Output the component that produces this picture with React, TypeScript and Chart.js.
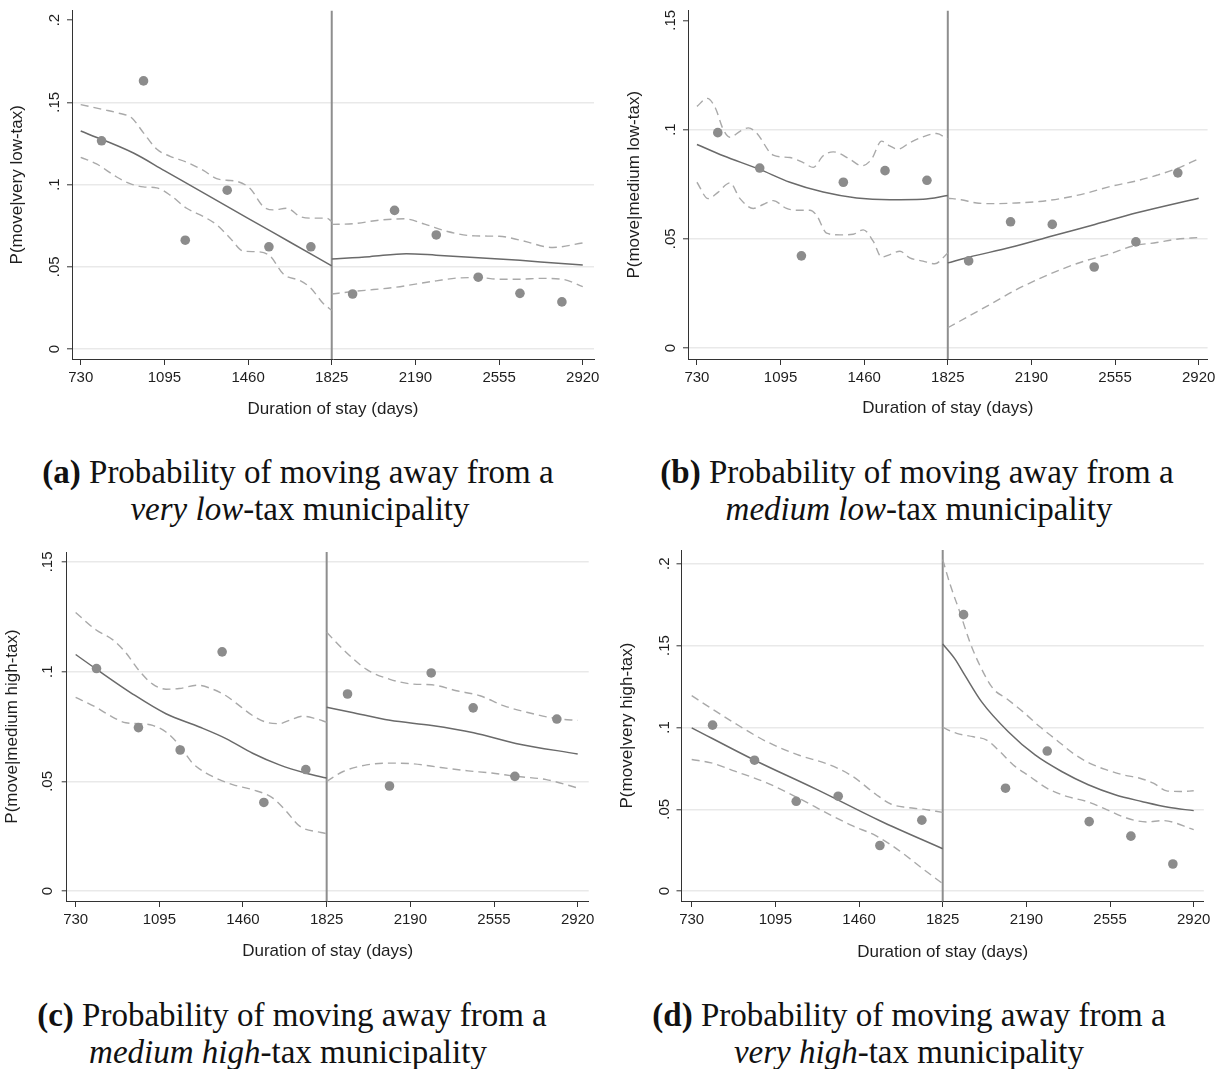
import React, { useEffect, useRef } from 'react';
import { Chart, registerables } from 'chart.js';

Chart.register(...registerables);

type Pt = [number, number];

// ---------- shared axis data ----------
const X_TICKS = [730, 1095, 1460, 1825, 2190, 2555, 2920];
const CUTOFF = 1825;
const BIN_DAYS = [821, 1004, 1186, 1369, 1551, 1734, 1916, 2099, 2281, 2464, 2646, 2829];
const X_TITLE = 'Duration of stay (days)';

// ---------- panel (a): very low-tax ----------
const A_Y_TICKS = [0, 0.05, 0.1, 0.15, 0.2];
const A_DOTS = [0.1266, 0.163, 0.0662, 0.0966, 0.0622, 0.0622, 0.0335, 0.0843, 0.0694, 0.0437, 0.0339, 0.0287];
const A_FIT_L: Pt[] = [[730, 0.1326], [960, 0.1192], [1095, 0.1085], [1277, 0.0941], [1460, 0.0795], [1642, 0.0651], [1825, 0.0506]];
const A_FIT_R: Pt[] = [[1825, 0.0548], [1990, 0.0562], [2150, 0.058], [2280, 0.0571], [2464, 0.0556], [2646, 0.054], [2828, 0.052], [2920, 0.0512]];
const A_UP_L: Pt[] = [[730, 0.1486], [829, 0.1456], [901, 0.1432], [952, 0.1406], [1003, 0.1316], [1061, 0.1216], [1120, 0.1172], [1192, 0.1136], [1265, 0.1086], [1323, 0.1036], [1367, 0.1026], [1410, 0.102], [1469, 0.0976], [1527, 0.0866], [1570, 0.0846], [1629, 0.0856], [1687, 0.0806], [1745, 0.0796], [1803, 0.0796], [1825, 0.0776]];
const A_UP_R: Pt[] = [[1825, 0.0758], [1916, 0.0762], [2040, 0.0785], [2142, 0.0792], [2230, 0.076], [2330, 0.0715], [2450, 0.0688], [2555, 0.0686], [2653, 0.066], [2789, 0.0618], [2920, 0.0645]];
const A_LO_L: Pt[] = [[730, 0.1166], [799, 0.1126], [887, 0.1046], [945, 0.1006], [1003, 0.0986], [1061, 0.098], [1120, 0.0936], [1192, 0.0856], [1265, 0.0806], [1323, 0.0756], [1381, 0.0676], [1439, 0.0596], [1498, 0.0592], [1556, 0.0566], [1614, 0.0456], [1687, 0.0416], [1730, 0.0376], [1789, 0.0276], [1825, 0.0236]];
const A_LO_R: Pt[] = [[1825, 0.0335], [1916, 0.035], [2007, 0.0362], [2099, 0.0375], [2190, 0.0395], [2281, 0.0415], [2372, 0.0432], [2464, 0.0435], [2555, 0.0425], [2646, 0.0425], [2737, 0.043], [2829, 0.0425], [2920, 0.038]];

// ---------- panel (b): medium low-tax ----------
const B_Y_TICKS = [0, 0.05, 0.1, 0.15];
const B_DOTS = [0.0986, 0.0824, 0.0422, 0.0759, 0.0812, 0.0768, 0.0399, 0.0578, 0.0566, 0.0371, 0.0486, 0.0802];
const B_FIT_L: Pt[] = [[730, 0.0932], [845, 0.088], [1001, 0.0819], [1136, 0.0759], [1281, 0.0714], [1427, 0.0687], [1572, 0.0679], [1717, 0.0681], [1825, 0.0698]];
const B_FIT_R: Pt[] = [[1825, 0.039], [1917, 0.0416], [2100, 0.0461], [2284, 0.0514], [2467, 0.0566], [2650, 0.0619], [2920, 0.0686]];
const B_UP_L: Pt[] = [[730, 0.1106], [775, 0.1143], [810, 0.11], [845, 0.1], [874, 0.0965], [918, 0.0992], [954, 0.1008], [990, 0.0985], [1063, 0.0883], [1136, 0.0872], [1194, 0.0849], [1238, 0.0827], [1281, 0.088], [1325, 0.0898], [1398, 0.0864], [1449, 0.0834], [1492, 0.0864], [1536, 0.0947], [1572, 0.0925], [1608, 0.091], [1659, 0.094], [1717, 0.0967], [1776, 0.0982], [1825, 0.0955]];
const B_UP_R: Pt[] = [[1825, 0.0686], [1883, 0.0679], [1951, 0.0664], [2020, 0.0661], [2122, 0.0664], [2225, 0.0671], [2327, 0.0686], [2430, 0.0709], [2532, 0.0739], [2652, 0.0766], [2737, 0.0791], [2823, 0.0821], [2920, 0.0866]];
const B_LO_L: Pt[] = [[730, 0.0759], [779, 0.0684], [823, 0.0714], [874, 0.0756], [918, 0.0684], [976, 0.0639], [1019, 0.0657], [1063, 0.0675], [1121, 0.0639], [1165, 0.0631], [1223, 0.0631], [1252, 0.0608], [1296, 0.0526], [1354, 0.0518], [1412, 0.0521], [1456, 0.0541], [1500, 0.0488], [1536, 0.0416], [1572, 0.0428], [1616, 0.0443], [1659, 0.0413], [1717, 0.0398], [1768, 0.0386], [1825, 0.0435]];
const B_LO_R: Pt[] = [[1825, 0.0093], [1917, 0.0146], [2020, 0.0206], [2122, 0.0266], [2225, 0.0318], [2327, 0.0363], [2430, 0.0401], [2532, 0.0431], [2635, 0.0468], [2737, 0.0483], [2823, 0.0498], [2920, 0.0506]];

// ---------- panel (c): medium high-tax ----------
const C_Y_TICKS = [0, 0.05, 0.1, 0.15];
const C_DOTS = [0.1014, 0.0745, 0.0643, 0.109, 0.0404, 0.0554, 0.0898, 0.0479, 0.0994, 0.0835, 0.0523, 0.0784];
const C_FIT_L: Pt[] = [[730, 0.1078], [822, 0.101], [979, 0.0898], [1124, 0.0808], [1270, 0.0748], [1386, 0.0695], [1502, 0.0628], [1619, 0.0575], [1732, 0.0538], [1825, 0.0515]];
const C_FIT_R: Pt[] = [[1825, 0.0838], [1931, 0.0815], [2101, 0.0778], [2284, 0.0755], [2466, 0.0722], [2650, 0.0673], [2920, 0.0625]];
const C_UP_L: Pt[] = [[730, 0.1269], [818, 0.1191], [891, 0.1146], [949, 0.1086], [1008, 0.1003], [1066, 0.0943], [1124, 0.092], [1182, 0.0923], [1262, 0.0938], [1328, 0.092], [1386, 0.089], [1444, 0.0845], [1502, 0.08], [1560, 0.077], [1619, 0.0763], [1662, 0.0778], [1720, 0.0797], [1779, 0.0785], [1825, 0.077]];
const C_UP_R: Pt[] = [[1825, 0.1179], [1897, 0.1101], [1999, 0.101], [2101, 0.0965], [2204, 0.0943], [2284, 0.094], [2391, 0.0913], [2494, 0.089], [2596, 0.0845], [2698, 0.0815], [2833, 0.0785], [2920, 0.0778]];
const C_LO_L: Pt[] = [[730, 0.0883], [818, 0.0838], [891, 0.0793], [949, 0.0767], [1008, 0.0763], [1066, 0.0755], [1124, 0.0725], [1182, 0.0665], [1240, 0.0583], [1299, 0.0538], [1357, 0.0508], [1415, 0.0485], [1502, 0.0462], [1589, 0.0425], [1648, 0.0365], [1706, 0.0297], [1800, 0.0267], [1825, 0.0262]];
const C_LO_R: Pt[] = [[1825, 0.05], [1897, 0.0545], [1999, 0.0575], [2101, 0.0583], [2204, 0.058], [2323, 0.0563], [2442, 0.0548], [2545, 0.0538], [2650, 0.0523], [2783, 0.0508], [2920, 0.047]];

// ---------- panel (d): very high-tax ----------
const D_Y_TICKS = [0, 0.05, 0.1, 0.15, 0.2];
const D_DOTS = [0.1014, 0.08, 0.0549, 0.058, 0.0279, 0.0434, 0.1689, 0.0629, 0.0856, 0.0425, 0.0336, 0.0166];
const D_FIT_L: Pt[] = [[730, 0.0998], [1000, 0.0803], [1277, 0.062], [1551, 0.043], [1825, 0.0259]];
const D_FIT_R: Pt[] = [[1825, 0.151], [1878, 0.1419], [1922, 0.1318], [1995, 0.1156], [2111, 0.0974], [2228, 0.0832], [2344, 0.0731], [2460, 0.065], [2577, 0.0589], [2693, 0.0548], [2809, 0.0512], [2920, 0.0492]];
const D_UP_L: Pt[] = [[730, 0.1194], [815, 0.1117], [918, 0.1026], [1055, 0.0915], [1191, 0.0834], [1328, 0.0774], [1430, 0.0703], [1533, 0.0592], [1601, 0.0531], [1670, 0.0511], [1738, 0.0501], [1825, 0.0481]];
const D_UP_R: Pt[] = [[1825, 0.2025], [1857, 0.1875], [1900, 0.1703], [1944, 0.152], [1987, 0.1379], [2045, 0.1237], [2104, 0.1176], [2176, 0.1095], [2249, 0.1004], [2322, 0.0923], [2394, 0.0842], [2467, 0.0781], [2540, 0.0741], [2613, 0.071], [2685, 0.069], [2744, 0.066], [2802, 0.0613], [2860, 0.0609], [2920, 0.0613]];
const D_LO_L: Pt[] = [[730, 0.0804], [815, 0.0784], [918, 0.0733], [1055, 0.0663], [1191, 0.0572], [1328, 0.0471], [1430, 0.04], [1533, 0.0339], [1635, 0.0248], [1738, 0.0137], [1825, 0.0046]];
const D_LO_R: Pt[] = [[1825, 0.1], [1886, 0.0964], [1959, 0.0943], [2017, 0.0923], [2075, 0.0852], [2133, 0.0771], [2206, 0.07], [2279, 0.0629], [2366, 0.0579], [2453, 0.0548], [2540, 0.0498], [2627, 0.0447], [2714, 0.0423], [2787, 0.0431], [2920, 0.0376]];

// ---------- styling ----------
const SANS = "'Liberation Sans', Arial, Helvetica, sans-serif";
const SERIF = "'Liberation Serif', 'Times New Roman', serif";
const TEXT = '#1e1e1e';
const AXIS = '#333333';
const GRID = '#e9e9e9';
const DOT = '#8c8c8c';
const FIT = '#6a6a6a';
const CI = '#a9a9a9';
const VLINE = '#8e8e8e';

interface PanelCfg {
  left: number; top: number; w: number; h: number;
  plotLeft: number; plotRight: number; plotTop: number; plotBottom: number;
  xMin: number; xMax: number; yMin: number; yMax: number;
  yTicks: number[]; yTitle: string; yTitleX: number; xTitleY: number;
  yTickPad: number; topGrid: boolean;
  dots: number[]; fitL: Pt[]; fitR: Pt[]; upL: Pt[]; upR: Pt[]; loL: Pt[]; loR: Pt[];
}

const PANELS: PanelCfg[] = [
  {
    left: 0, top: 0, w: 610, h: 430, plotLeft: 72, plotRight: 594, plotTop: 6, plotBottom: 359,
    xMin: 692, xMax: 2969, yMin: -0.006, yMax: 0.2058, yTicks: A_Y_TICKS, yTitle: 'P(move|very low-tax)',
    yTitleX: 17.5, xTitleY: 409, yTickPad: 1.5, topGrid: false,
    dots: A_DOTS, fitL: A_FIT_L, fitR: A_FIT_R, upL: A_UP_L, upR: A_UP_R, loL: A_LO_L, loR: A_LO_R,
  },
  {
    left: 610, top: 0, w: 611, h: 430, plotLeft: 78, plotRight: 597.6, plotTop: 6, plotBottom: 359,
    xMin: 691, xMax: 2959, yMin: -0.005, yMax: 0.1545, yTicks: B_Y_TICKS, yTitle: 'P(move|medium low-tax)',
    yTitleX: 24, xTitleY: 408, yTickPad: 1.5, topGrid: false,
    dots: B_DOTS, fitL: B_FIT_L, fitR: B_FIT_R, upL: B_UP_L, upR: B_UP_R, loL: B_LO_L, loR: B_LO_R,
  },
  {
    left: 0, top: 540, w: 610, h: 430, plotLeft: 66.7, plotRight: 588.7, plotTop: 8, plotBottom: 361,
    xMin: 691, xMax: 2968, yMin: -0.0045, yMax: 0.1545, yTicks: C_Y_TICKS, yTitle: 'P(move|medium high-tax)',
    yTitleX: 12, xTitleY: 411, yTickPad: 3, topGrid: true,
    dots: C_DOTS, fitL: C_FIT_L, fitR: C_FIT_R, upL: C_UP_L, upR: C_UP_R, loL: C_LO_L, loR: C_LO_R,
  },
  {
    left: 610, top: 540, w: 611, h: 430, plotLeft: 71.5, plotRight: 593.8, plotTop: 8, plotBottom: 361,
    xMin: 685.5, xMax: 2964, yMin: -0.006, yMax: 0.2084, yTicks: D_Y_TICKS, yTitle: 'P(move|very high-tax)',
    yTitleX: 17.5, xTitleY: 412, yTickPad: 1, topGrid: true,
    dots: D_DOTS, fitL: D_FIT_L, fitR: D_FIT_R, upL: D_UP_L, upR: D_UP_R, loL: D_LO_L, loR: D_LO_R,
  },
];

const CAPTIONS = [
  { label: '(a)', rest: 'very low', cx1: 298, cy1: 472, cx2: 300, cy2: 509 },
  { label: '(b)', rest: 'medium low', cx1: 917, cy1: 472, cx2: 919, cy2: 509 },
  { label: '(c)', rest: 'medium high', cx1: 292, cy1: 1015, cx2: 288, cy2: 1052 },
  { label: '(d)', rest: 'very high', cx1: 909, cy1: 1015, cx2: 909, cy2: 1052 },
];

const toXY = (pts: Pt[]) => pts.map(([x, y]) => ({ x, y }));

const fmtY = (v: number) => (v === 0 ? '0' : String(+v.toFixed(3)).replace(/^0\./, '.'));

function curve(pts: Pt[], dashed: boolean) {
  return {
    type: 'line' as const,
    data: toXY(pts),
    borderColor: dashed ? CI : FIT,
    borderWidth: dashed ? 1.4 : 1.5,
    borderDash: dashed ? [8, 5] : [],
    pointRadius: 0,
    fill: false,
    cubicInterpolationMode: 'monotone' as const,
    showLine: true,
  };
}

function Panel({ cfg }: { cfg: PanelCfg }) {
  const ref = useRef<HTMLCanvasElement>(null);
  useEffect(() => {
    const canvas = ref.current;
    if (!canvas) return;
    const topTick = cfg.yTicks[cfg.yTicks.length - 1];
    const datasets: any[] = [
      {
        type: 'scatter',
        data: BIN_DAYS.map((x, i) => ({ x, y: cfg.dots[i] })),
        pointRadius: 4.8,
        pointBackgroundColor: DOT,
        pointBorderWidth: 0,
        showLine: false,
      },
      curve(cfg.fitL, false),
      curve(cfg.fitR, false),
      curve(cfg.upL, true),
      curve(cfg.upR, true),
      curve(cfg.loL, true),
      curve(cfg.loR, true),
      {
        type: 'line',
        data: [{ x: CUTOFF, y: cfg.yMin }, { x: CUTOFF, y: cfg.yMax }],
        borderColor: VLINE,
        borderWidth: 2,
        pointRadius: 0,
        tension: 0,
        showLine: true,
      },
    ];
    const chart = new Chart(canvas, {
      type: 'scatter',
      data: { datasets },
      options: {
        animation: false,
        responsive: false,
        devicePixelRatio: 1,
        events: [],
        layout: { padding: { left: 0, top: cfg.plotTop, right: cfg.w - cfg.plotRight, bottom: 0 } },
        plugins: { legend: { display: false }, tooltip: { enabled: false } },
        scales: {
          x: {
            type: 'linear',
            min: cfg.xMin,
            max: cfg.xMax,
            afterBuildTicks: (s: any) => { s.ticks = X_TICKS.map((v) => ({ value: v })); },
            afterFit: (s: any) => { s.height = cfg.h - cfg.plotBottom; },
            ticks: {
              autoSkip: false, maxRotation: 0, minRotation: 0, padding: 4,
              font: { family: SANS, size: 15 }, color: TEXT,
              callback: (v: any) => String(v),
            },
            grid: { drawOnChartArea: false, drawTicks: true, tickLength: 6, tickColor: AXIS, tickWidth: 1 },
            border: { display: true, color: AXIS, width: 1 },
            title: {
              display: true, text: X_TITLE, color: TEXT,
              font: { family: SANS, size: 17 },
              padding: { top: 0, bottom: cfg.h - cfg.xTitleY - 10.2 },
            },
          },
          y: {
            type: 'linear',
            min: cfg.yMin,
            max: cfg.yMax,
            afterBuildTicks: (s: any) => { s.ticks = cfg.yTicks.map((v) => ({ value: v })); },
            afterFit: (s: any) => { s.width = cfg.plotLeft; },
            ticks: {
              autoSkip: false, minRotation: 90, maxRotation: 90, crossAlign: 'center', padding: cfg.yTickPad,
              font: { family: SANS, size: 15 }, color: TEXT,
              callback: (v: any) => fmtY(Number(v)),
            },
            grid: {
              drawOnChartArea: true, drawTicks: true, tickLength: 5, tickColor: AXIS, tickWidth: 1,
              lineWidth: 1.6,
              color: (ctx: any) => (!cfg.topGrid && ctx.tick && ctx.tick.value === topTick ? 'rgba(0,0,0,0)' : GRID),
            },
            border: { display: true, color: AXIS, width: 1 },
            title: {
              display: true, text: cfg.yTitle, color: TEXT,
              font: { family: SANS, size: 17 },
              padding: { top: cfg.yTitleX - 10.2, bottom: 0 },
            },
          },
        },
      } as any,
    });
    return () => chart.destroy();
  }, [cfg]);
  return (
    <canvas
      ref={ref}
      width={cfg.w}
      height={cfg.h}
      style={{ position: 'absolute', left: cfg.left, top: cfg.top, width: cfg.w, height: cfg.h }}
    />
  );
}

function CaptionLine({ cx, cy, children }: { cx: number; cy: number; children: React.ReactNode }) {
  return (
    <div
      style={{
        position: 'absolute', left: cx - 320, width: 640, top: cy - 19, height: 38, lineHeight: '38px',
        textAlign: 'center', fontFamily: SERIF, fontSize: 33, color: '#111', whiteSpace: 'nowrap',
      }}
    >
      {children}
    </div>
  );
}

export default function App() {
  return (
    <div style={{ position: 'absolute', left: 0, top: 0, width: 1221, height: 1069, background: '#fff', overflow: 'hidden' }}>
      {PANELS.map((p, i) => <Panel key={i} cfg={p} />)}
      {CAPTIONS.map((c, i) => (
        <React.Fragment key={i}>
          <CaptionLine cx={c.cx1} cy={c.cy1}>
            <b>{c.label}</b> Probability of moving away from a
          </CaptionLine>
          <CaptionLine cx={c.cx2} cy={c.cy2}>
            <i>{c.rest}</i>-tax municipality
          </CaptionLine>
        </React.Fragment>
      ))}
    </div>
  );
}
